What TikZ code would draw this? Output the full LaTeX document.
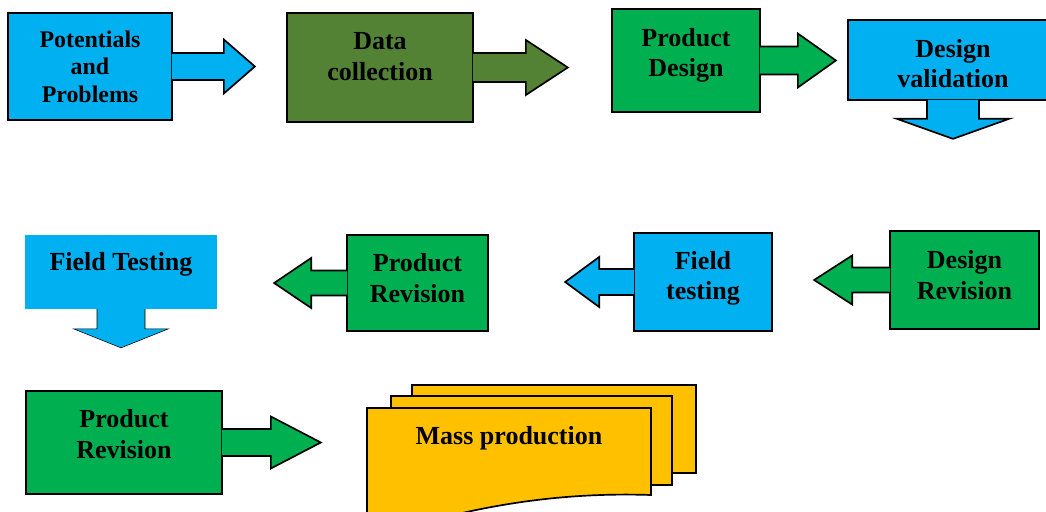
\documentclass[tikz,border=0pt]{standalone}
\usepackage{fontspec}
\setmainfont{Liberation Serif}
\usetikzlibrary{calc}

\definecolor{skyblue}{HTML}{00B0F0}
\definecolor{leafgreen}{HTML}{00B050}
\definecolor{olivegreen}{HTML}{548235}
\definecolor{amber}{HTML}{FFC000}

\newcommand{\pxu}{0.025cm}
% callout arrows: node, style, half shaft, shaft length, half head, tip
\newcommand{\rightarr}[6]{%
  \filldraw[#2] (#1.east) ++(-1,-#3) -- ++(#4+1,0) -- ++(0,#3-#5)
    -- ++(#6-#4,#5) -- ++(#4-#6,#5) -- ++(0,#3-#5) -- ++(-#4-1,0);}
\newcommand{\leftarr}[6]{%
  \filldraw[#2] (#1.west) ++(1,-#3) -- ++(-#4-1,0) -- ++(0,#3-#5)
    -- ++(#4-#6,#5) -- ++(#6-#4,#5) -- ++(0,#3-#5) -- ++(#4+1,0);}
\newcommand{\downarr}[6]{%
  \filldraw[#2] (#1.south) ++(-#3,-1) -- ++(0,#4+1) -- ++(#3-#5,0)
    -- ++(#5,#6-#4) -- ++(#5,#4-#6) -- ++(#3-#5,0) -- ++(0,-#4-1);}

\begin{document}
\begin{tikzpicture}[x=\pxu, y=-\pxu,
  box/.style={draw, line width=1.2pt, inner sep=0pt},
  arr/.style={draw, line width=1.2pt},
  lbl/.style={font=\bfseries\fontsize{18.5}{21.5}\selectfont, align=center, inner sep=0pt}]
  \useasboundingbox (0,0) rectangle (1046,512);
  \clip (0,0) rectangle (1046,512);

  % first row
  \node[box, fill=skyblue, minimum width=164*\pxu, minimum height=107*\pxu] (b1) at (90,66.5) {};
  \rightarr{b1}{arr,fill=skyblue}{13.5}{51}{27}{82}
  \node[box, fill=olivegreen, minimum width=186*\pxu, minimum height=109*\pxu] (b2) at (380,67.5) {};
  \rightarr{b2}{arr,fill=olivegreen}{14.5}{52}{27.5}{94}
  \node[box, fill=leafgreen, minimum width=148*\pxu, minimum height=103*\pxu] (b3) at (686,60.5) {};
  \rightarr{b3}{arr,fill=leafgreen}{14}{37}{27}{75}
  \node[box, fill=skyblue, minimum width=210*\pxu, minimum height=80*\pxu] (b4) at (953,60) {};
  \downarr{b4}{arr,fill=skyblue}{26}{18}{56}{38}

  % second row
  \node[box, draw=none, fill=skyblue, minimum width=192*\pxu, minimum height=74*\pxu] (b5) at (121,272) {};
  \downarr{b5}{fill=skyblue}{24}{19}{47.5}{38}
  \node[box, fill=leafgreen, minimum width=141*\pxu, minimum height=96*\pxu] (b6) at (417.5,283) {};
  \leftarr{b6}{arr,fill=leafgreen}{12.5}{35}{25}{72}
  \node[box, fill=skyblue, minimum width=138*\pxu, minimum height=98*\pxu] (b7) at (703,282) {};
  \leftarr{b7}{arr,fill=skyblue}{13}{34}{25}{68}
  \node[box, fill=leafgreen, minimum width=149*\pxu, minimum height=98*\pxu] (b8) at (964.5,280) {};
  \leftarr{b8}{arr,fill=leafgreen}{12.5}{37}{24.5}{75}

  % third row
  \node[box, fill=leafgreen, minimum width=196*\pxu, minimum height=103*\pxu] (b9) at (124,442.5) {};
  \rightarr{b9}{arr,fill=leafgreen}{13.5}{48}{26}{98}
  \filldraw[arr, fill=amber] (412,385) rectangle (696,473);
  \filldraw[arr, fill=amber] (391,396) rectangle (672,485);
  \filldraw[arr, fill=amber] (367,545) -- (367,408) -- (651,408) -- (651,495)
    .. controls (560,492) and (470,505) .. (367,540) -- cycle;

  % labels
  \node[lbl, font=\bfseries\fontsize{17}{19.5}\selectfont] (t1) at (90,66.5) {Potentials\\and\\Problems};
  \node[lbl] (t2) at (380,56.5) {Data\\collection};
  \node[lbl] (t3) at (686,55.5) {Product\\Design};
  \node[lbl] (t4) at (953,63.5) {Design\\validation};
  \node[lbl] (t5) at (121,264) {Field Testing};
  \node[lbl] (t6) at (417.5,278) {Product\\Revision};
  \node[lbl] (t7) at (703,278.5) {Field\\testing};
  \node[lbl] (t8) at (964.5,275) {Design\\Revision};
  \node[lbl] (t9) at (124,434) {Product\\Revision};
  \node[lbl] (t10) at (509,438) {Mass production};
\end{tikzpicture}
\end{document}
